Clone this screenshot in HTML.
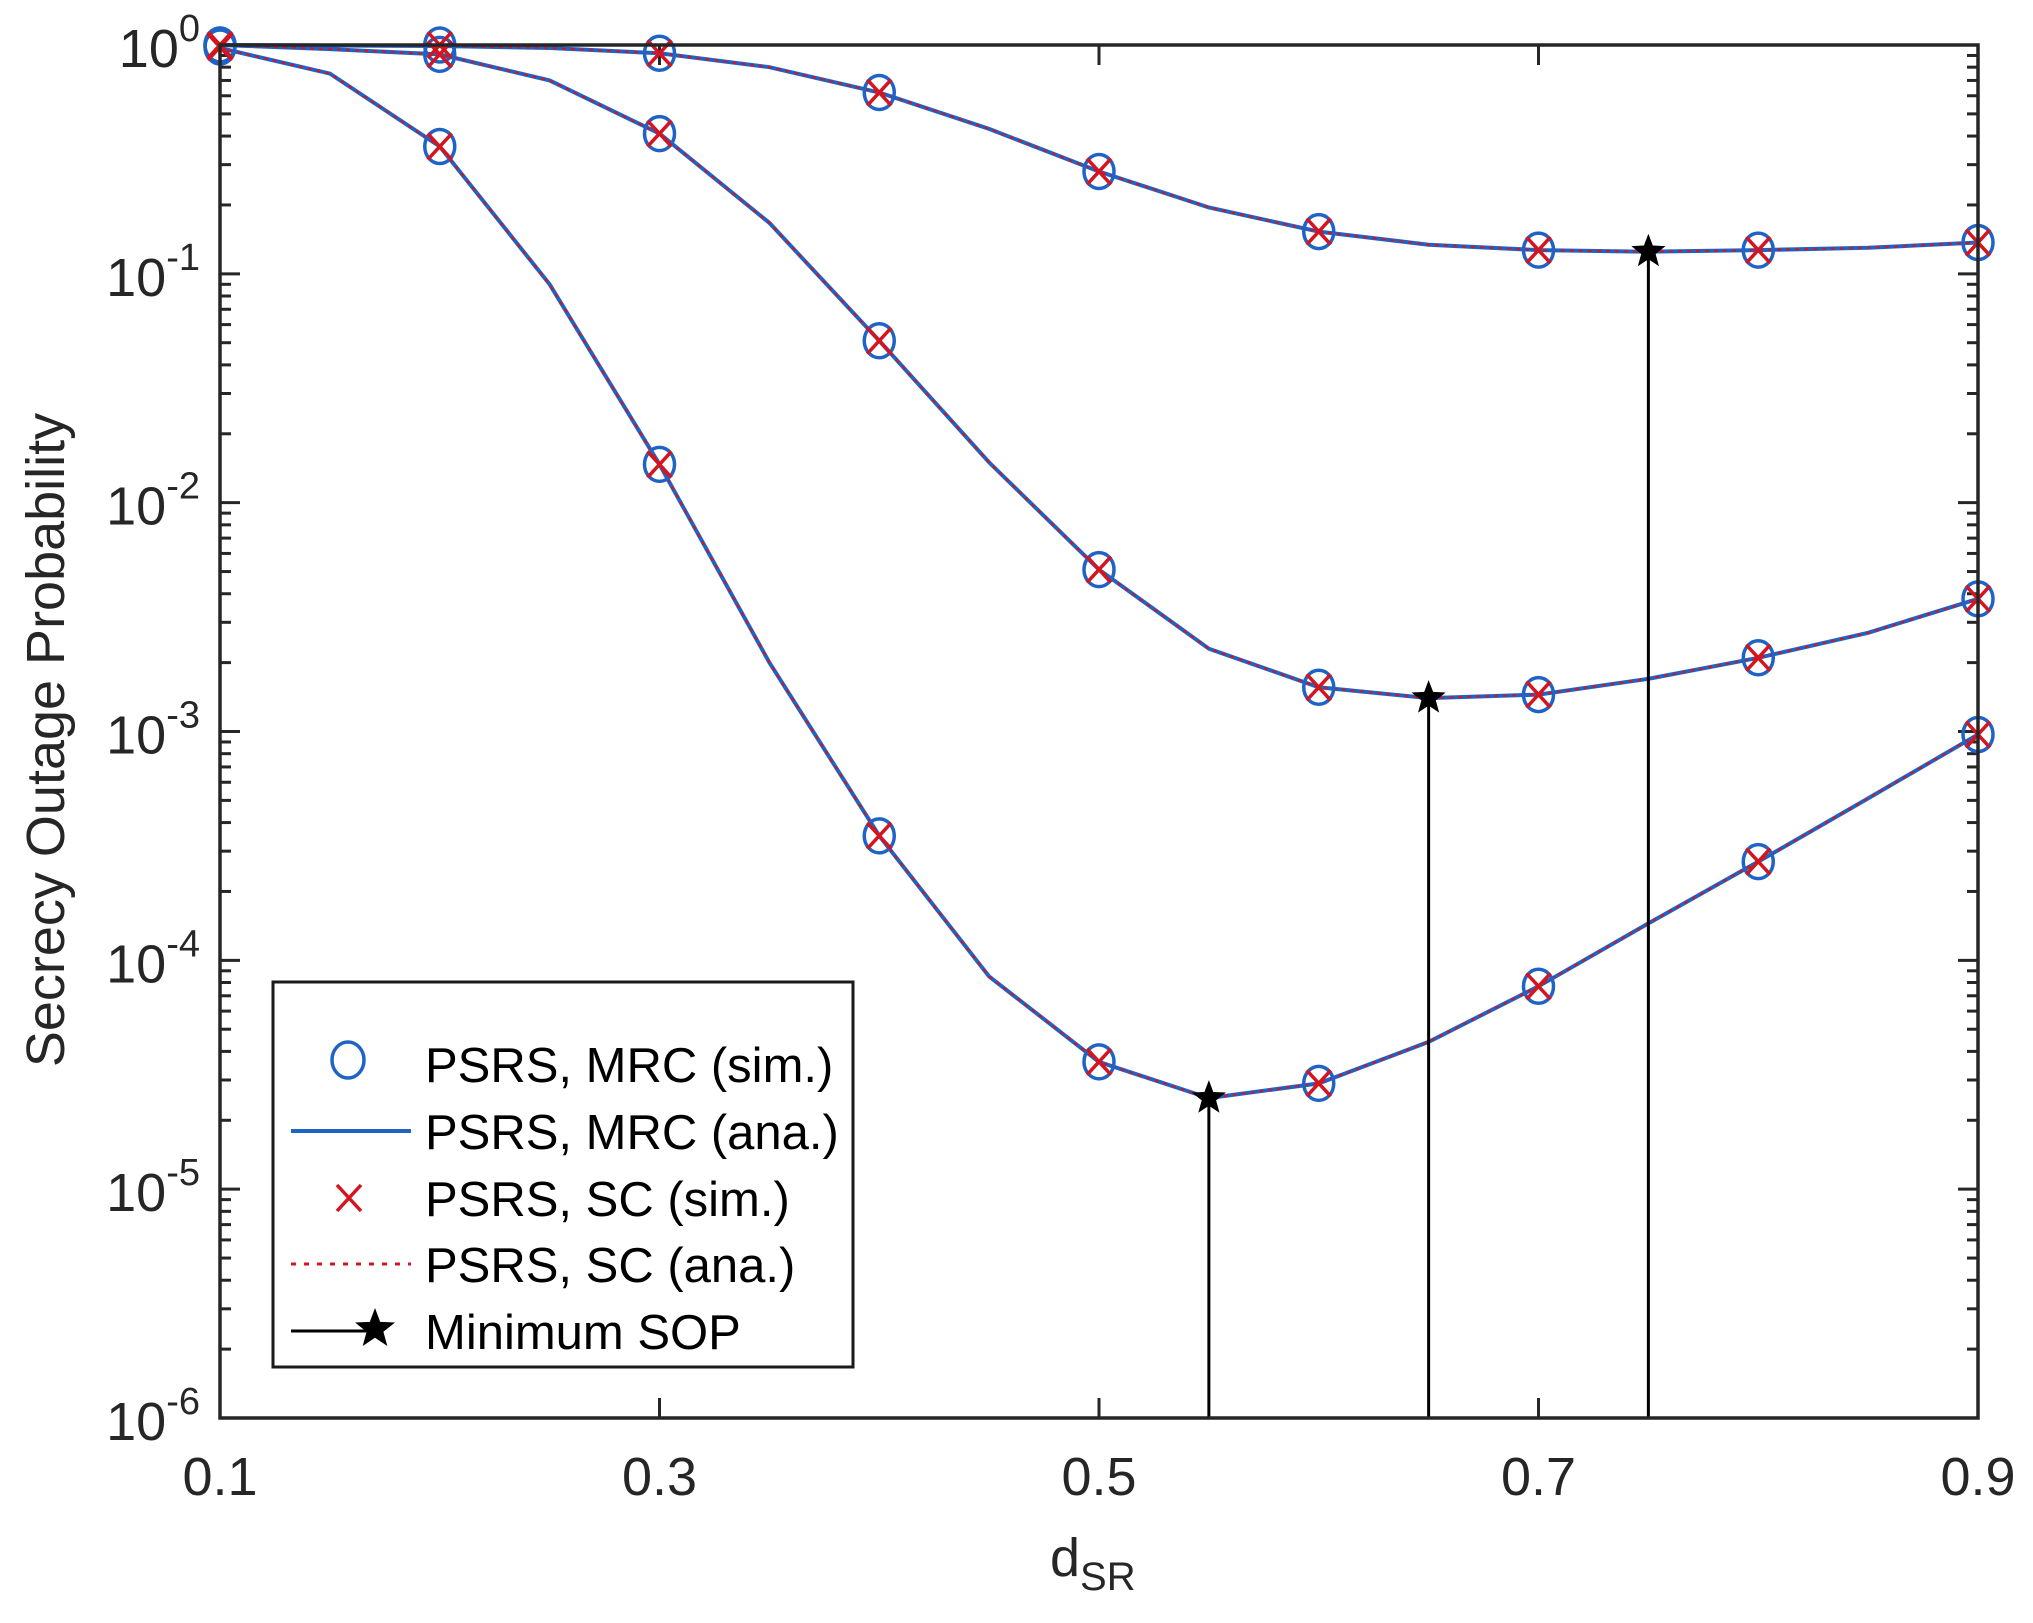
<!DOCTYPE html>
<html><head><meta charset="utf-8"><style>
html,body{margin:0;padding:0;background:#fff;}
svg{display:block;font-family:"Liberation Sans",Arial,sans-serif;}
</style></head><body>
<svg id="chart" width="2033" height="1623" viewBox="0 0 2033 1623" xmlns="http://www.w3.org/2000/svg">
<rect x="0" y="0" width="2033" height="1623" fill="#fff"/>
<g id="plot"></g>
</svg>
<script>
const xSim = [0.1,0.2,0.3,0.4,0.5,0.6,0.7,0.8,0.9];
const xAna = [0.1,0.15,0.2,0.25,0.3,0.35,0.4,0.45,0.5,0.55,0.6,0.65,0.7,0.75,0.8,0.85,0.9];
const topAna = [1,0.995,0.99,0.97,0.92,0.8,0.62,0.43,0.28,0.195,0.153,0.134,0.127,0.125,0.127,0.13,0.137];
const midAna = [1,0.96,0.91,0.70,0.41,0.167,0.051,0.015,0.0051,0.0023,0.00156,0.0014,0.00145,0.0017,0.0021,0.0027,0.0038];
const botAna = [0.97,0.75,0.36,0.09,0.0147,0.002,0.00035,0.000085,0.000036,0.000025,0.000029,0.000044,0.000077,0.000145,0.00027,0.00051,0.00097];
const topSim = [1,1,0.92,0.62,0.28,0.153,0.127,0.127,0.137];
const midSim = [1,0.91,0.41,0.051,0.0051,0.00156,0.00145,0.0021,0.0038];
const botSim = [0.98,0.36,0.0147,0.00035,0.000036,0.000029,0.000077,0.00027,0.00097];
const minX = [0.55,0.65,0.75];
const minY = [0.000025,0.0014,0.125];
const xTicks = [0.1,0.3,0.5,0.7,0.9];
const xTickLabels = ["0.1","0.3","0.5","0.7","0.9"];
const yExps = [0,-1,-2,-3,-4,-5,-6];

const L=220,R=1978,T=45,B=1418;
const NS="http://www.w3.org/2000/svg";
const g=document.getElementById('plot');
function X(v){return L+(v-0.1)/0.8*(R-L);}
function Y(v){return T+(-Math.log10(v))/6*(B-T);}
function el(tag,attrs,parent){const e=document.createElementNS(NS,tag);for(const k in attrs)e.setAttribute(k,attrs[k]);(parent||g).appendChild(e);return e;}
const BLUE="#1f63c6",RED="#d4141e",AX="#262626";

for(let d=0;d<6;d++){for(let m=1;m<10;m++){const v=Math.pow(10,-6+d)*m;const y=Y(v);const len=m===1?20:11;
 const t1=el('line',{x1:L,y1:y,x2:L+len,y2:y,stroke:AX,'stroke-width':3});
 
 
 const t2=el('line',{x1:R,y1:y,x2:R-len,y2:y,stroke:AX,'stroke-width':3});
 
 }}
yExps.forEach(e=>{const t=el('text',{x:200,y:Y(Math.pow(10,e))+22,'font-size':54,fill:AX,'text-anchor':'end'});
 
 
 t.innerHTML='10<tspan dy="-26" font-size="38">'+(e<0?'-'+(-e):e)+'</tspan>';});
xTicks.forEach((v,i)=>{const x=X(v);
 const a=el('line',{x1:x,y1:B,x2:x,y2:B-20,stroke:AX,'stroke-width':3});
 
 
 const b=el('line',{x1:x,y1:T,x2:x,y2:T+20,stroke:AX,'stroke-width':3});
 
 
 const t=el('text',{x:x,y:B+77,'font-size':54,fill:AX,'text-anchor':'middle'});
 
 
 t.textContent=xTickLabels[i];});

function line(xs,ys,attrs,name){const d=xs.map((x,i)=>(i?'L':'M')+X(x).toFixed(1)+','+Y(ys[i]).toFixed(1)).join(' ');
 const p=el('path',Object.assign({d:d,fill:'none'},attrs));
 
 }
[[topAna,'top'],[midAna,'mid'],[botAna,'bottom']].forEach(([ys,n])=>{
 line(xAna,ys,{stroke:BLUE,'stroke-width':4},'mrc-ana-'+n);
 line(xAna,ys,{stroke:RED,'stroke-width':2,'stroke-dasharray':'4 5'},'sc-ana-'+n);});
function circle(x,y,name){const c=el('ellipse',{cx:x,cy:y,rx:15,ry:17,fill:'none',stroke:BLUE,'stroke-width':3.5});
 
 }
function cross(x,y,name){const c=el('path',{d:`M${x-12},${y-13}L${x+12},${y+13}M${x-12},${y+13}L${x+12},${y-13}`,stroke:RED,'stroke-width':3.5,fill:'none'});
 
 }
[topSim,midSim,botSim].forEach(ys=>{xSim.forEach((x,i)=>circle(X(x),Y(ys[i]),'mrc-sim-point'));});
[topSim,midSim,botSim].forEach(ys=>{xSim.forEach((x,i)=>cross(X(x),Y(ys[i]),'sc-sim-point'));});
function star(cx,cy,r,name){let d='';for(let i=0;i<10;i++){const rr=i%2?r*0.42:r;const a=-Math.PI/2+i*Math.PI/5;d+=(i?'L':'M')+(cx+rr*Math.cos(a)).toFixed(1)+','+(cy+rr*Math.sin(a)).toFixed(1);}
 const s=el('path',{d:d+'Z',fill:'#000'});
 
 }
minX.forEach((x,i)=>{const ln=el('line',{x1:X(x),y1:Y(minY[i]),x2:X(x),y2:B,stroke:'#000','stroke-width':3});
 
 
 star(X(x),Y(minY[i]),18,'min-sop-star');});

const box=el('rect',{x:L,y:T,width:R-L,height:B-T,fill:'none',stroke:AX,'stroke-width':3.5});



const yt=el('text',{x:0,y:0,'font-size':54,fill:AX,'text-anchor':'middle',transform:'translate(64,740) rotate(-90)'});


yt.textContent='Secrecy Outage Probability';
const xt=el('text',{x:1050,y:1576,'font-size':54,fill:AX});


xt.innerHTML='d<tspan dy="14" font-size="40">SR</tspan>';

const lg=el('g',{});


const lb=el('rect',{x:273,y:982,width:580,height:385,fill:'#fff',stroke:'#1a1a1a','stroke-width':3},lg);


const labels=['PSRS, MRC (sim.)','PSRS, MRC (ana.)','PSRS, SC (sim.)','PSRS, SC (ana.)','Minimum SOP'];
const ly=[1064,1131,1198,1264,1331];
labels.forEach((s,i)=>{const t=el('text',{x:425,y:ly[i]+18,'font-size':49,fill:'#000'},lg);
 
 
 t.textContent=s;});
el('ellipse',{cx:348,cy:ly[0]-4,rx:16,ry:18,fill:'none',stroke:BLUE,'stroke-width':3.5},lg);
el('line',{x1:291,y1:ly[1],x2:411,y2:ly[1],stroke:BLUE,'stroke-width':4},lg);
el('path',{d:`M${337},${ly[2]-13}L${361},${ly[2]+13}M${337},${ly[2]+13}L${361},${ly[2]-13}`,stroke:RED,'stroke-width':3.5},lg);
el('line',{x1:291,y1:ly[3],x2:411,y2:ly[3],stroke:RED,'stroke-width':3,'stroke-dasharray':'5 8'},lg);
el('line',{x1:291,y1:ly[4],x2:375,y2:ly[4],stroke:'#000','stroke-width':3},lg);
star(375,ly[4]-2,21,'legend-star');
</script>
</body></html>
